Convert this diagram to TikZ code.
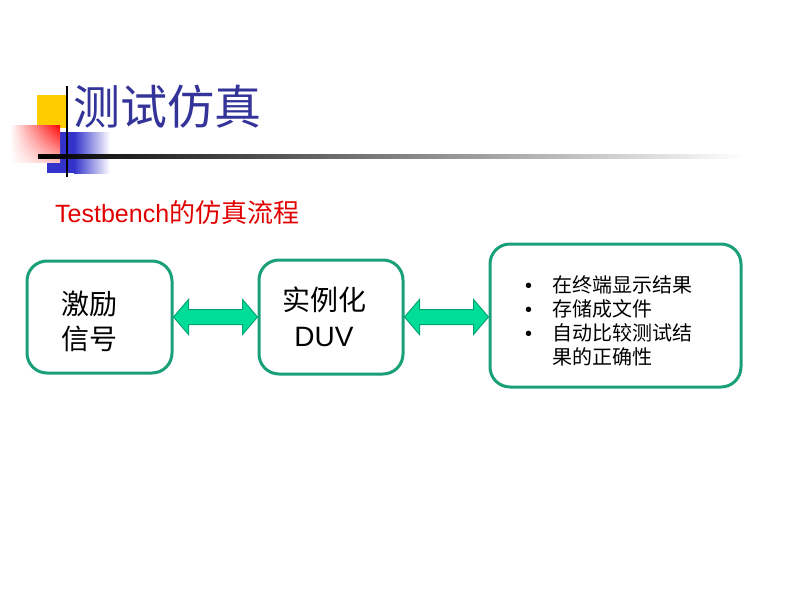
\documentclass[tikz,border=0pt]{standalone}
\usepackage{fontspec}
\setmainfont{Liberation Sans}
\newfontfamily\cjk{Noto Sans CJK SC}
\usetikzlibrary{calc,shadings}
\definecolor{titleblue}{RGB}{51,51,153}
\definecolor{subred}{RGB}{225,0,0}
\definecolor{boxgreen}{RGB}{26,160,120}
\definecolor{arrowfill}{RGB}{0,221,153}
\definecolor{arrowline}{RGB}{0,165,115}
\definecolor{decoyellow}{RGB}{255,204,0}
\definecolor{decoblue}{RGB}{51,51,204}
\tikzset{
  flowbox/.style={draw=boxgreen, line width=3pt, rounded corners=20pt, inner sep=0pt},
  flowarrow/.style={fill=arrowfill, draw=arrowline, line width=1pt, line join=miter},
  boxtext/.style={inner sep=0pt, font=\fontsize{28}{34}\selectfont},
  itemtext/.style={inner sep=0pt, anchor=base west, font=\fontsize{20}{24}\selectfont\cjk}
}
\newcommand{\blockarrow}[2]{%
  \draw[flowarrow] (#1) -- ++(15,-17.5) -- ++(0,10) -- ($(#2)+(-15,-7.5)$)
    -- ++(0,-10) -- (#2) -- ++(-15,17.5) -- ++(0,-10) -- ($(#1)+(15,7.5)$)
    -- ++(0,10) -- cycle;}

\begin{document}
\begin{tikzpicture}[x=1pt, y=-1pt]
\useasboundingbox (0,0) rectangle (793,595);

\fill[decoyellow] (37,95) rectangle (67,128);
\fill[decoblue] (47,132) rectangle (74,173);
\shade[left color=decoblue, right color=white] (74,132) rectangle (110,173);
\shade[upper left=white, upper right=red, lower left=white, lower right=red!25] (10,125) rectangle (60,162);
\shade[left color=black, right color=white] (38,154.5) rectangle (745,158);
\draw[line width=2.5pt] (67,86) -- (67,177);

\node[anchor=base west, inner sep=0pt, text=titleblue, font=\fontsize{47}{50}\selectfont\cjk] (title) at (73,124) {测试仿真};
\node[anchor=base west, inner sep=0pt, text=subred, font=\fontsize{25}{30}\selectfont] (subtitle) at (55,222) {Testbench{\fontsize{26}{30}\selectfont\cjk 的仿真流程}};

\node[flowbox, minimum width=145pt, minimum height=112pt] (stim) at (99.5,317) {};
\node[flowbox, minimum width=144pt, minimum height=114pt] (dut) at (331,317) {};
\node[flowbox, minimum width=251pt, minimum height=143pt] (result) at (615.5,315.5) {};

\node[boxtext, anchor=base west] (stimA) at (61,314) {\cjk 激励};
\node[boxtext, anchor=base west] (stimB) at (61,349) {\cjk 信号};
\node[boxtext, anchor=base] (dutA) at (324.5,310.5) {\cjk 实例化};
\node[boxtext, anchor=base] (dutB) at (324,346.5) {DUV};

\foreach \y/\b/\t [count=\i] in {292/1/在终端显示结果, 316/1/存储成文件, 340/1/自动比较测试结, 364/0/果的正确性}{
  \ifnum\b=1 \node[inner sep=0pt, anchor=base west, font=\fontsize{20}{24}\selectfont] (bullet\i) at (525,\y) {•};\fi
  \node[itemtext] (item\i) at (552,\y) {\t};
}

\blockarrow{stim.east}{stim.east -| dut.west}
\blockarrow{dut.east}{dut.east -| result.west}
\end{tikzpicture}
\end{document}
